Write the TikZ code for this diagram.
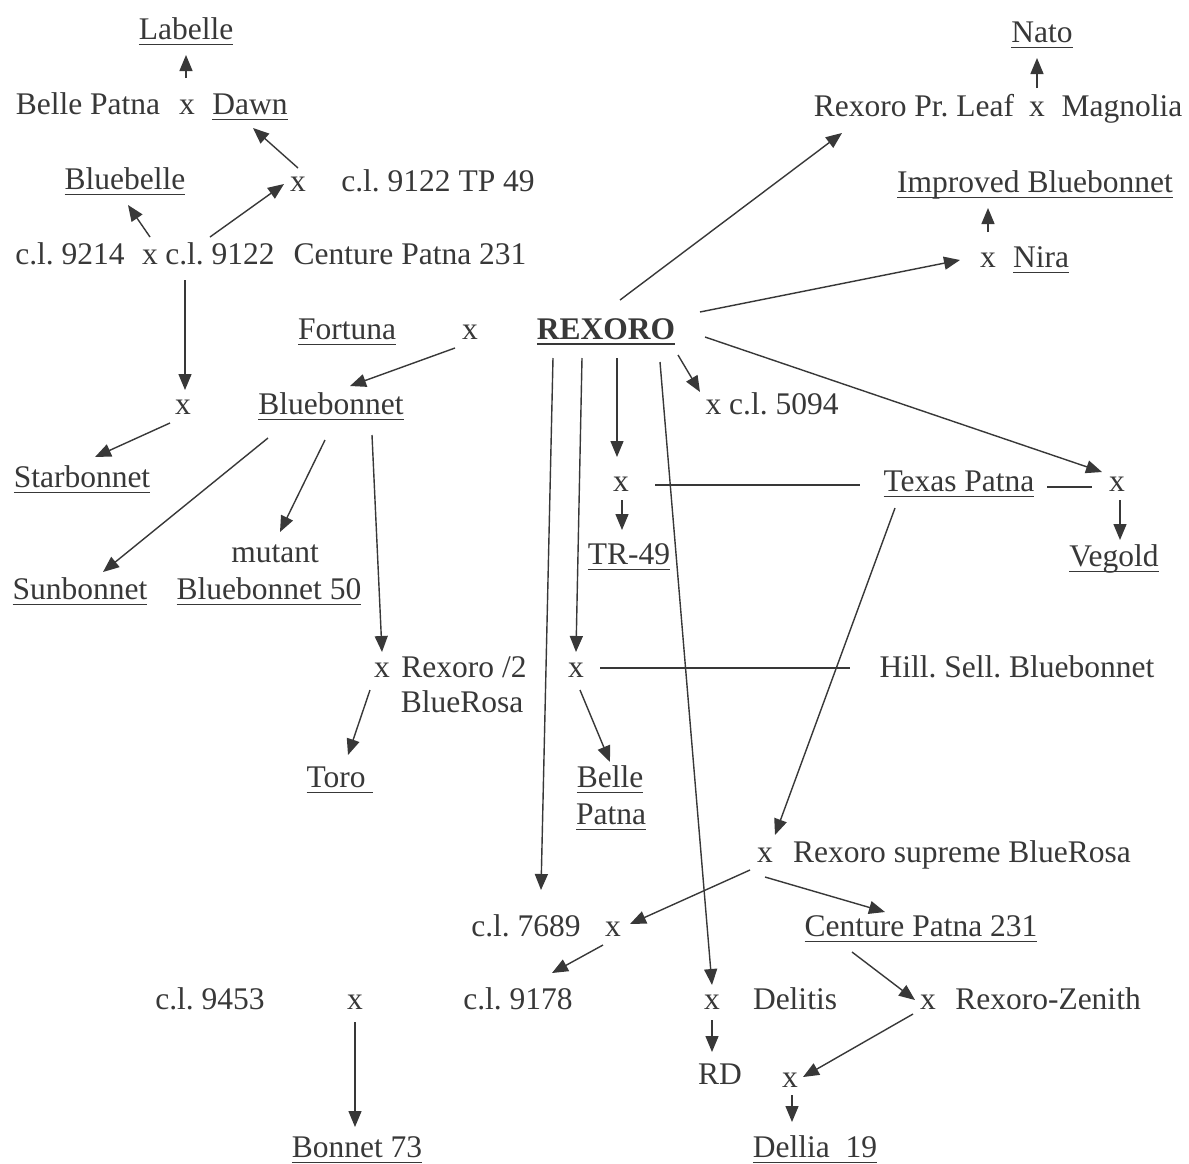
\documentclass[tikz,border=0pt]{standalone}
\usepackage{fontspec}
\setmainfont{Liberation Serif}
\usetikzlibrary{arrows.meta}
\definecolor{ink}{gray}{0.22}
\newsavebox\ulbox
\newcommand{\ul}[1]{\sbox\ulbox{#1}\rlap{\rule[-6pt]{\wd\ulbox}{1.4pt}}\usebox\ulbox}
\frenchspacing
\begin{document}
\begin{tikzpicture}[x=1pt,y=-1pt,
    every node/.style={anchor=base,inner sep=3pt,text=ink,font={\fontsize{31.5}{37}\selectfont}},
    arr/.style={draw=ink,line width=1.4pt,-{Triangle[length=16pt,width=13pt]}},
    tie/.style={draw=ink,line width=1.3pt}]
\useasboundingbox[fill=white] (0,0) rectangle (1189,1163);
% left branch
\node (labelle) at (186,39) {\ul{Labelle}};
\node (bpatna) at (88,114) {Belle Patna};
\node (xdawn) at (187,114) {x};
\node (dawn) at (250,114) {\ul{Dawn}};
\node (bluebelle) at (125,189) {\ul{Bluebelle}};
\node (xtp) at (298,191) {x};
\node (cltp) at (438,191) {c.l. 9122 TP 49};
\node (cl9214) at (70,264) {c.l. 9214};
\node (xbb) at (150,264) {x};
\node (cl9122) at (220,264) {c.l. 9122};
\node (centp) at (410,264) {Centure Patna 231};
\node (xst) at (183,414) {x};
\node (starbonnet) at (82,487) {\ul{Starbonnet}};
\node (fortuna) at (347,339) {\ul{Fortuna}};
\node (xfr) at (470,339) {x};
\node (rexoro) at (606,339) {\sbox\ulbox{\bfseries REXORO}\rlap{\rule[-6pt]{\wd\ulbox}{1.9pt}}\usebox\ulbox};
\node (bluebonnet) at (331,414) {\ul{Bluebonnet}};
\node (mutant) at (275,562) {mutant};
\node (sunbonnet) at (80,599) {\ul{Sunbonnet}};
\node (bb50) at (269,599) {\ul{Bluebonnet 50}};
\node (xtoro) at (382,677) {x};
\node (rex2) at (464,677) {Rexoro /2};
\node (bluerosa) at (462,712) {BlueRosa};
\node (toro) at (340,787) {\ul{Toro\ }};
% centre column
\node (xbp) at (576,677) {x};
\node (hill) at (1017,677) {Hill. Sell. Bluebonnet};
\node (belle) at (610,787) {\ul{Belle}};
\node (patna) at (611,824) {\ul{Patna}};
\node (xtr) at (621,491) {x};
\node (trf) at (629,564) {\ul{TR-49}};
\node (texas) at (959,491) {\ul{Texas Patna}};
\node (xveg) at (1117,491) {x};
\node (vegold) at (1114,566) {\ul{Vegold}};
\node (cl5094) at (772,414) {x c.l. 5094};
% right top
\node (nato) at (1042,42) {\ul{Nato}};
\node (rpl) at (914,116) {Rexoro Pr. Leaf};
\node (xnato) at (1037,116) {x};
\node (magnolia) at (1122,116) {Magnolia};
\node (impbb) at (1035,192) {\ul{Improved Bluebonnet}};
\node (xnira) at (988,267) {x};
\node (nira) at (1041,267) {\ul{Nira}};
% bottom
\node (xsup) at (765,862) {x};
\node (supreme) at (962,862) {Rexoro supreme BlueRosa};
\node (cl7689) at (526,936) {c.l. 7689};
\node (x7689) at (613,936) {x};
\node (centp2) at (921,936) {\ul{Centure Patna 231}};
\node (cl9178) at (518,1009) {c.l. 9178};
\node (cl9453) at (210,1009) {c.l. 9453};
\node (xbon) at (355,1009) {x};
\node (bonnet) at (357,1157) {\ul{Bonnet 73}};
\node (xrd) at (712,1009) {x};
\node (delitis) at (795,1009) {Delitis};
\node (rd) at (720,1084) {RD};
\node (xzen) at (928,1009) {x};
\node (zenith) at (1048,1009) {Rexoro-Zenith};
\node (xdel) at (790,1087) {x};
\node (dellia) at (815,1157) {\ul{Dellia\ \ 19}};
% arrows, left
\draw[arr] ([xshift=-1pt,yshift=36pt]xdawn.base) -- ([yshift=-16pt]labelle.base);
\draw[arr] ([yshift=23pt]xtp.base) -- ([xshift=3pt,yshift=-14pt]dawn.base);
\draw[arr] ([yshift=27pt]xbb.base) -- ([xshift=3pt,yshift=-16pt]bluebelle.base);
\draw[arr] ([xshift=-10pt,yshift=27pt]cl9122.base) -- ([xshift=-14pt,yshift=7pt]xtp.base);
\draw[arr] ([xshift=-35pt,yshift=-16pt]cl9122.base) -- ([xshift=2pt,yshift=24pt]xst.base);
\draw[arr] ([xshift=-13pt,yshift=-9pt]xst.base) -- ([xshift=13pt,yshift=30pt]starbonnet.base);
\draw[arr] ([xshift=-15pt,yshift=-9pt]xfr.base) -- ([xshift=19pt,yshift=28pt]bluebonnet.base);
\draw[arr] ([xshift=-63pt,yshift=-24pt]bluebonnet.base) -- ([xshift=23pt,yshift=27pt]sunbonnet.base);
\draw[arr] ([xshift=-6pt,yshift=-26pt]bluebonnet.base) -- ([xshift=5pt,yshift=30pt]mutant.base);
\draw[arr] ([xshift=41pt,yshift=-21pt]bluebonnet.base) -- ([yshift=25pt]xtoro.base);
\draw[arr] ([xshift=-12pt,yshift=-13pt]xtoro.base) -- ([xshift=8pt,yshift=32pt]toro.base);
% arrows from REXORO
\draw[arr] ([xshift=-53pt,yshift=-19pt]rexoro.base) -- ([xshift=15pt,yshift=46pt]cl7689.base);
\draw[arr] ([xshift=-24pt,yshift=-19pt]rexoro.base) -- ([yshift=25pt]xbp.base);
\draw[arr] ([xshift=11pt,yshift=-19pt]rexoro.base) -- ([xshift=-4pt,yshift=34pt]xtr.base);
\draw[arr] ([xshift=54pt,yshift=-23pt]rexoro.base) -- ([yshift=24pt]xrd.base);
\draw[arr] ([xshift=72pt,yshift=-16pt]rexoro.base) -- ([xshift=-72pt,yshift=22pt]cl5094.base);
\draw[arr] ([xshift=14pt,yshift=39pt]rexoro.base) -- ([xshift=-72pt,yshift=-17pt]rpl.base);
\draw[arr] ([xshift=94pt,yshift=27pt]rexoro.base) -- ([xshift=-28pt,yshift=7pt]xnira.base);
\draw[arr] ([xshift=99pt,yshift=2pt]rexoro.base) -- ([xshift=-15pt,yshift=19pt]xveg.base);
% crosses in the middle
\draw[tie] ([xshift=24pt,yshift=9pt]xbp.base) -- ([xshift=-167pt,yshift=9pt]hill.base);
\draw[arr] ([xshift=4pt,yshift=-13pt]xbp.base) -- ([yshift=25pt]belle.base);
\draw[tie] ([xshift=34pt,yshift=6pt]xtr.base) -- ([xshift=-99pt,yshift=6pt]texas.base);
\draw[arr] ([xshift=1pt,yshift=-9pt]xtr.base) -- ([xshift=-7pt,yshift=34pt]trf.base);
\draw[tie] ([xshift=88pt,yshift=4pt]texas.base) -- ([xshift=-25pt,yshift=4pt]xveg.base);
\draw[arr] ([xshift=3pt,yshift=-9pt]xveg.base) -- ([xshift=6pt,yshift=26pt]vegold.base);
% right top
\draw[arr] ([yshift=28pt]xnato.base) -- ([xshift=-5pt,yshift=-16pt]nato.base);
\draw[arr] ([yshift=35pt]xnira.base) -- ([xshift=-47pt,yshift=-16pt]impbb.base);
% bottom
\draw[arr] ([xshift=-64pt,yshift=-17pt]texas.base) -- ([xshift=10pt,yshift=27pt]xsup.base);
\draw[arr] ([xshift=-15pt,yshift=-8pt]xsup.base) -- ([xshift=17pt,yshift=12pt]x7689.base);
\draw[arr] ([yshift=-15pt]xsup.base) -- ([xshift=-36pt,yshift=24pt]centp2.base);
\draw[arr] ([xshift=-10pt,yshift=-9pt]x7689.base) -- ([xshift=34pt,yshift=36pt]cl9178.base);
\draw[arr] ([yshift=-13pt]xbon.base) -- ([xshift=-2pt,yshift=30pt]bonnet.base);
\draw[arr] ([yshift=-11pt]xrd.base) -- ([xshift=-8pt,yshift=32pt]rd.base);
\draw[arr] ([xshift=-69pt,yshift=-16pt]centp2.base) -- ([xshift=-13pt,yshift=9pt]xzen.base);
\draw[arr] ([xshift=-15pt,yshift=-5pt]xzen.base) -- ([xshift=13pt,yshift=10pt]xdel.base);
\draw[arr] ([xshift=2pt,yshift=-8pt]xdel.base) -- ([xshift=-23pt,yshift=35pt]dellia.base);
\end{tikzpicture}
\end{document}
